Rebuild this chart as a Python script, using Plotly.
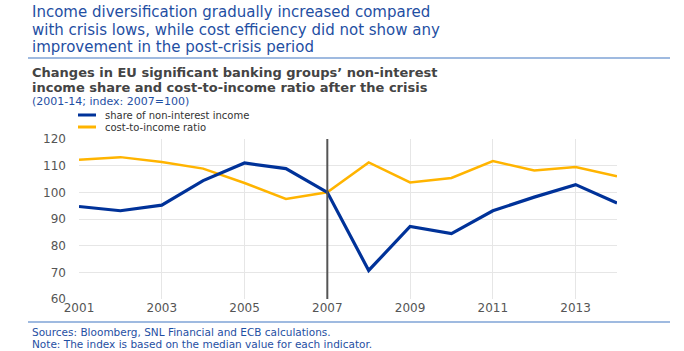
import plotly.graph_objects as go

years = list(range(2001, 2015))
non_interest_share = [94.7, 93.1, 95.2, 104.4, 111.0, 108.9, 100.0, 70.7, 87.2, 84.5, 93.1, 98.2, 102.9, 96.0]
cost_to_income = [112.2, 113.2, 111.4, 108.9, 103.5, 97.5, 100.0, 111.2, 103.7, 105.4, 111.7, 108.2, 109.5, 106.0]
x_ticks = [2001, 2003, 2005, 2007, 2009, 2011, 2013]
y_ticks = [60, 70, 80, 90, 100, 110, 120]
series_names = ["share of non-interest income", "cost-to-income ratio"]

BLUE = "#003299"
ORANGE = "#FFB400"
TEXTBLUE = "#1f4fa3"
FONT = "DejaVu Sans, Verdana, sans-serif"

fig = go.Figure()
fig.add_trace(go.Scatter(x=years, y=cost_to_income, mode="lines", name=series_names[1],
                         line=dict(color=ORANGE, width=2.5), showlegend=False))
fig.add_trace(go.Scatter(x=years, y=non_interest_share, mode="lines", name=series_names[0],
                         line=dict(color=BLUE, width=3.2), showlegend=False))

W, H = 684, 351
ml, mr, mt, mb = 79, 67, 139, 52
pw, ph = W - ml - mr, H - mt - mb

def px(xp):
    return (xp - ml) / pw

def py(yp):
    return (H - mb - yp) / ph

fig.update_layout(
    width=W, height=H,
    margin=dict(l=ml, r=mr, t=mt, b=mb),
    paper_bgcolor="white", plot_bgcolor="white",
    font=dict(family=FONT, size=12, color="#555"),
    xaxis=dict(range=[2001, 2014], tickvals=x_ticks, showgrid=True, gridcolor="#e6e6e6",
               gridwidth=1, zeroline=False, showline=False, ticks="",
               tickfont=dict(size=12, color="#555")),
    yaxis=dict(range=[60, 120], tickvals=y_ticks, showgrid=True, gridcolor="#e6e6e6",
               gridwidth=1, zeroline=False, showline=False, ticks="", ticklabelstandoff=12,
               tickfont=dict(size=12, color="#555")),
)

shapes = [
    dict(type="line", xref="x", yref="paper", x0=2007, x1=2007, y0=0, y1=1,
         line=dict(color="#555555", width=2)),
    dict(type="line", xref="paper", yref="paper", x0=px(28), x1=px(670), y0=py(58), y1=py(58),
         line=dict(color="#7fa3d6", width=1.5)),
    dict(type="line", xref="paper", yref="paper", x0=px(28), x1=px(670), y0=py(322), y1=py(322),
         line=dict(color="#7fa3d6", width=1.5)),
    dict(type="line", xref="paper", yref="paper", x0=px(78), x1=px(96), y0=py(115), y1=py(115),
         line=dict(color=BLUE, width=3)),
    dict(type="line", xref="paper", yref="paper", x0=px(78), x1=px(96), y0=py(127), y1=py(127),
         line=dict(color=ORANGE, width=3)),
]
fig.update_layout(shapes=shapes)

def ann(text, xp, yp, size, color, bold=False):
    t = f"<b>{text}</b>" if bold else text
    fig.add_annotation(text=t, xref="paper", yref="paper", x=px(xp), y=py(yp),
                       xanchor="left", yanchor="middle", showarrow=False,
                       font=dict(family=FONT, size=size, color=color), align="left")

title_lines = ["Income diversification gradually increased compared",
               "with crisis lows, while cost efficiency did not show any",
               "improvement in the post-crisis period"]
for i, line in enumerate(title_lines):
    ann(line, 30, 12 + i * 17.5, 15, TEXTBLUE)

ann("Changes in EU significant banking groups’ non-interest", 30, 72, 13, "#444", bold=True)
ann("income share and cost-to-income ratio after the crisis", 30, 87, 13, "#444", bold=True)
ann("(2001-14; index: 2007=100)", 30, 101, 11, TEXTBLUE)
ann(series_names[0], 103, 115, 10, "#333")
ann(series_names[1], 103, 127, 10, "#333")
ann("Sources: Bloomberg, SNL Financial and ECB calculations.", 30, 332, 10.5, TEXTBLUE)
ann("Note: The index is based on the median value for each indicator.", 30, 344, 10.5, TEXTBLUE)

fig.write_html("out.html")
